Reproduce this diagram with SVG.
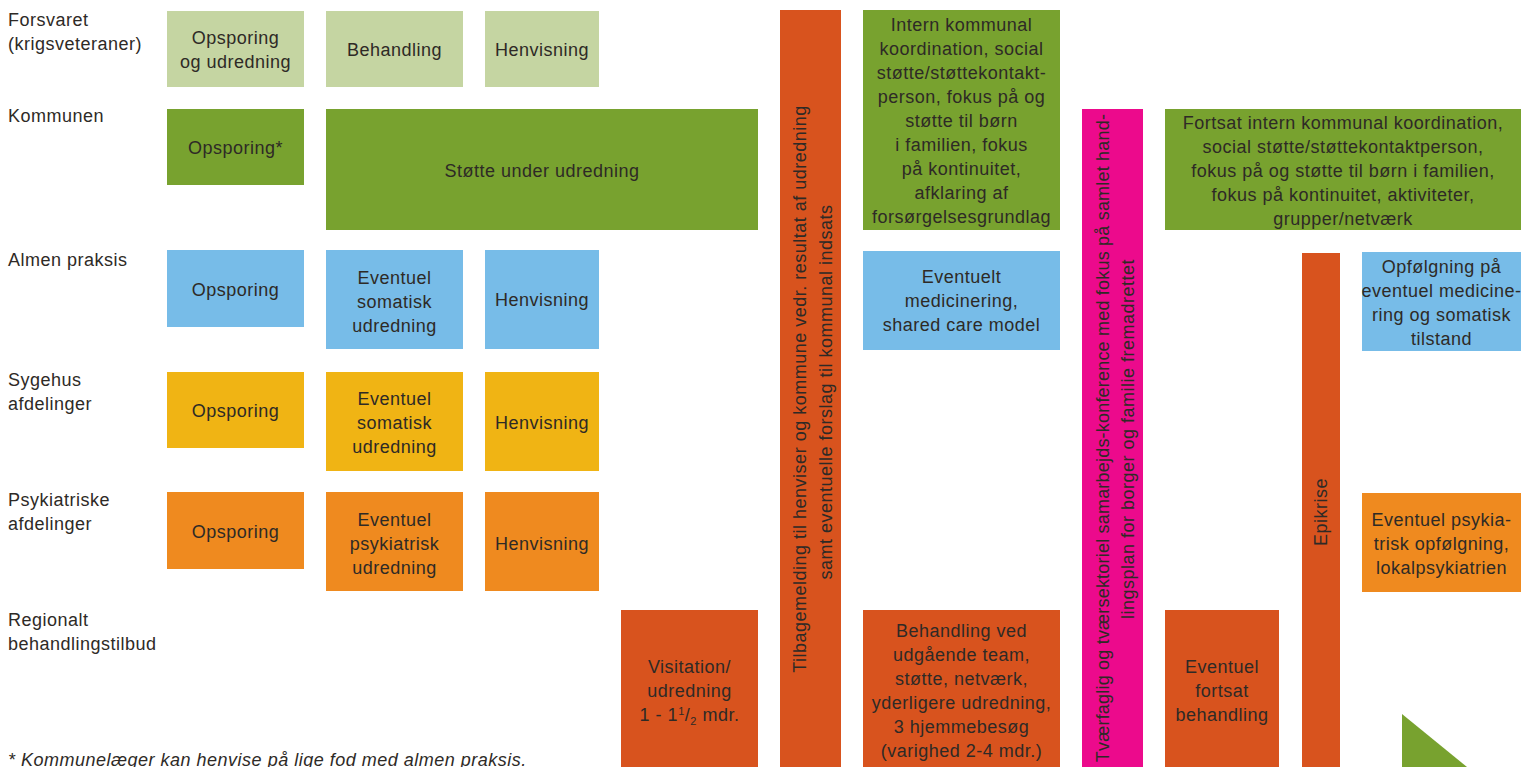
<svg xmlns="http://www.w3.org/2000/svg" width="1523" height="767" viewBox="0 0 1523 767">
<style>
text{font-family:"Liberation Sans","DejaVu Sans",sans-serif;font-size:18px;letter-spacing:0.5px;fill:#2e2a26}
.c{text-anchor:middle}
.lg{fill:#c5d5a2}.g{fill:#78a22f}.b{fill:#77bce8}.y{fill:#f0b414}.o{fill:#ef8a1f}.r{fill:#d8531e}.p{fill:#ec0a8c}
.fn{font-style:italic}
</style>
<rect width="1523" height="767" fill="#fff"/>
<g id="labels">
<text x="8" y="26">Forsvaret</text>
<text x="8" y="50">(krigsveteraner)</text>
<text x="8" y="122">Kommunen</text>
<text x="8" y="266">Almen praksis</text>
<text x="8" y="386">Sygehus</text>
<text x="8" y="410">afdelinger</text>
<text x="8" y="506">Psykiatriske</text>
<text x="8" y="530">afdelinger</text>
<text x="8" y="626">Regionalt</text>
<text x="8" y="650">behandlingstilbud</text>
<text class="fn" x="8" y="766">* Kommunelæger kan henvise på lige fod med almen praksis.</text>
</g>
<g id="forsvaret-opsporing"><rect class="lg" x="167" y="11" width="137" height="76"/><text class="c" x="235.5" y="44">Opsporing</text><text class="c" x="235.5" y="68">og udredning</text></g>
<g id="forsvaret-behandling"><rect class="lg" x="326" y="11" width="137" height="76"/><text class="c" x="394.5" y="56">Behandling</text></g>
<g id="forsvaret-henvisning"><rect class="lg" x="485" y="11" width="114" height="76"/><text class="c" x="542" y="56">Henvisning</text></g>
<g id="kommunen-opsporing"><rect class="g" x="167" y="109" width="137" height="76"/><text class="c" x="235.5" y="154">Opsporing*</text></g>
<g id="kommunen-stotte"><rect class="g" x="326" y="109" width="432" height="121"/><text class="c" x="542" y="177">Støtte under udredning</text></g>
<g id="almen-opsporing"><rect class="b" x="167" y="250" width="137" height="77"/><text class="c" x="235.5" y="296">Opsporing</text></g>
<g id="almen-somatisk"><rect class="b" x="326" y="250" width="137" height="99"/><text class="c" x="394.5" y="284">Eventuel</text><text class="c" x="394.5" y="308">somatisk</text><text class="c" x="394.5" y="332">udredning</text></g>
<g id="almen-henvisning"><rect class="b" x="485" y="250" width="114" height="99"/><text class="c" x="542" y="306">Henvisning</text></g>
<g id="sygehus-opsporing"><rect class="y" x="167" y="372" width="137" height="76"/><text class="c" x="235.5" y="417">Opsporing</text></g>
<g id="sygehus-somatisk"><rect class="y" x="326" y="372" width="137" height="99"/><text class="c" x="394.5" y="405">Eventuel</text><text class="c" x="394.5" y="429">somatisk</text><text class="c" x="394.5" y="453">udredning</text></g>
<g id="sygehus-henvisning"><rect class="y" x="485" y="372" width="114" height="99"/><text class="c" x="542" y="429">Henvisning</text></g>
<g id="psyk-opsporing"><rect class="o" x="167" y="492" width="137" height="77"/><text class="c" x="235.5" y="538">Opsporing</text></g>
<g id="psyk-udredning"><rect class="o" x="326" y="492" width="137" height="99"/><text class="c" x="394.5" y="526">Eventuel</text><text class="c" x="394.5" y="550">psykiatrisk</text><text class="c" x="394.5" y="574">udredning</text></g>
<g id="psyk-henvisning"><rect class="o" x="485" y="492" width="114" height="99"/><text class="c" x="542" y="550">Henvisning</text></g>
<g id="regional-visitation"><rect class="r" x="621" y="610" width="137" height="157"/><text class="c" x="689.5" y="673">Visitation/</text><text class="c" x="689.5" y="697">udredning</text><text class="c" x="689.5" y="721">1 - 1<tspan font-size="11" dy="-6">1</tspan><tspan dy="6">/</tspan><tspan font-size="11" dy="4">2</tspan><tspan dy="-4"> mdr.</tspan></text></g>
<g id="tilbagemelding"><rect class="r" x="780" y="10" width="61" height="757"/>
<text class="c" transform="translate(806,389) rotate(-90)">Tilbagemelding til henviser og kommune vedr. resultat af udredning</text>
<text class="c" transform="translate(832,392) rotate(-90)">samt eventuelle forslag til kommunal indsats</text></g>
<g id="intern-kommunal"><rect class="g" x="863" y="10" width="197" height="220"/>
<text class="c" x="961.5" y="31">Intern kommunal</text>
<text class="c" x="961.5" y="55">koordination, social</text>
<text class="c" x="961.5" y="79">støtte/støttekontakt-</text>
<text class="c" x="961.5" y="103">person, fokus på og</text>
<text class="c" x="961.5" y="127">støtte til børn</text>
<text class="c" x="961.5" y="151">i familien, fokus</text>
<text class="c" x="961.5" y="175">på kontinuitet,</text>
<text class="c" x="961.5" y="199">afklaring af</text>
<text class="c" x="961.5" y="223">forsørgelsesgrundlag</text></g>
<g id="medicinering"><rect class="b" x="863" y="251" width="197" height="99"/><text class="c" x="961.5" y="283">Eventuelt</text><text class="c" x="961.5" y="307">medicinering,</text><text class="c" x="961.5" y="331">shared care model</text></g>
<g id="behandling-ved"><rect class="r" x="863" y="610" width="197" height="157"/>
<text class="c" x="961.5" y="637">Behandling ved</text>
<text class="c" x="961.5" y="661">udgående team,</text>
<text class="c" x="961.5" y="685">støtte, netværk,</text>
<text class="c" x="961.5" y="709">yderligere udredning,</text>
<text class="c" x="961.5" y="733">3 hjemmebesøg</text>
<text class="c" x="961.5" y="757">(varighed 2-4 mdr.)</text></g>
<g id="tvaerfaglig"><rect class="p" x="1082" y="109" width="61" height="658"/>
<text class="c" transform="translate(1109,438) rotate(-90)" style="letter-spacing:0.2px">Tværfaglig og tværsektoriel samarbejds-konference med fokus på samlet hand-</text>
<text class="c" transform="translate(1134,439) rotate(-90)">lingsplan for borger og familie fremadrettet</text></g>
<g id="fortsat-intern"><rect class="g" x="1165" y="109" width="356" height="121"/>
<text class="c" x="1343" y="129">Fortsat intern kommunal koordination,</text>
<text class="c" x="1343" y="153">social støtte/støttekontaktperson,</text>
<text class="c" x="1343" y="177">fokus på og støtte til børn i familien,</text>
<text class="c" x="1343" y="201">fokus på kontinuitet, aktiviteter,</text>
<text class="c" x="1343" y="225">grupper/netværk</text></g>
<g id="epikrise"><rect class="r" x="1302" y="253" width="38" height="514"/><text class="c" transform="translate(1327,512) rotate(-90)">Epikrise</text></g>
<g id="opfolgning"><rect class="b" x="1362" y="252" width="159" height="99"/>
<text class="c" x="1441.5" y="273">Opfølgning på</text>
<text class="c" x="1441.5" y="297">eventuel medicine-</text>
<text class="c" x="1441.5" y="321">ring og somatisk</text>
<text class="c" x="1441.5" y="345">tilstand</text></g>
<g id="psyk-opfolgning"><rect class="o" x="1362" y="493" width="159" height="99"/>
<text class="c" x="1441.5" y="526">Eventuel psykia-</text>
<text class="c" x="1441.5" y="550">trisk opfølgning,</text>
<text class="c" x="1441.5" y="574">lokalpsykiatrien</text></g>
<g id="fortsat-behandling"><rect class="r" x="1165" y="610" width="114" height="157"/>
<text class="c" x="1222" y="673">Eventuel</text>
<text class="c" x="1222" y="697">fortsat</text>
<text class="c" x="1222" y="721">behandling</text></g>
<g id="triangle"><polygon class="g" points="1402,714 1467,767 1402,767"/></g>
</svg>
